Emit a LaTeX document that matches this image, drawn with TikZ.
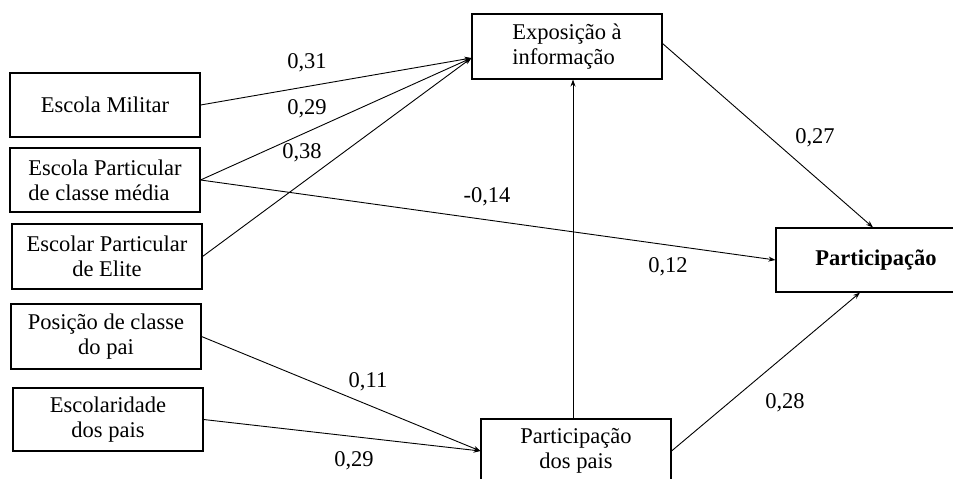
\documentclass[tikz,border=0pt]{standalone}
\usepackage{fontspec}
\setmainfont{Liberation Serif}
\usetikzlibrary{arrows.meta,calc}
\begin{document}
\begin{tikzpicture}[x=1pt,y=-1pt,
  box/.style={draw,line width=1.1pt,minimum width=190pt,minimum height=64pt,inner sep=0pt,
    align=center,font=\fontsize{22.5}{25}\selectfont},
  lbl/.style={font=\fontsize{22.5}{25}\selectfont,inner sep=0pt},
  arr/.style={line width=0.9pt,-{Stealth[length=7pt,width=5pt]}}]
\useasboundingbox (0,0) rectangle (953,479);
\clip (0,0) rectangle (953,479);
\node[box] (mil) at (105,105) {Escola Militar};
\node[box,align=left] (media) at (105,180) {Escola Particular\\de classe média};
\node[box,minimum height=65pt] (elite) at (107,256.5) {Escolar Particular\\de Elite};
\node[box,minimum height=65pt] (posicao) at (106,336.5) {Posição de classe\\do pai};
\node[box,minimum height=63pt] (escol) at (108,419.5) {Escolaridade\\dos pais};
\node[box] (pais) at (576,451) {Participação\\dos pais};
\node[box,minimum height=65pt,align=left] (expo) at (567,46.5) {Exposição à\\informação};
\node[box,minimum width=200pt,font=\fontsize{22.5}{25}\selectfont\bfseries] (part) at (876,260) {Participação};
\coordinate (expoin) at ($(expo.west)+(0,11.5)$);
\draw[arr] (mil.east) -- (expoin);
\draw[arr] (media.east) -- (expoin);
\draw[arr] (elite.east) -- (expoin);
\draw[arr] (media.east) -- (part.west);
\draw[arr] ($(expo.east)+(0,-3)$) -- ($(part.north)+(-3,0)$);
\draw[arr] ($(pais.north)+(-3,0)$) -- ($(pais.north |- expo.south)+(-3,0)$);
\draw[arr] (pais.east) -- ($(part.south)+(-16,0)$);
\draw[arr] (posicao.east) -- (pais.west);
\draw[arr] (escol.east) -- (pais.west);
\node[lbl] (l31) at (307,63) {0,31};
\node[lbl] (l29a) at (307,109) {0,29};
\node[lbl] (l38) at (302,153) {0,38};
\node[lbl] (l14) at (487,197) {-0,14};
\node[lbl] (l12) at (668,267) {0,12};
\node[lbl] (l27) at (815,138) {0,27};
\node[lbl] (l11) at (368,382) {0,11};
\node[lbl] (l29b) at (354,461) {0,29};
\node[lbl] (l28) at (785,403) {0,28};
\end{tikzpicture}
\end{document}
